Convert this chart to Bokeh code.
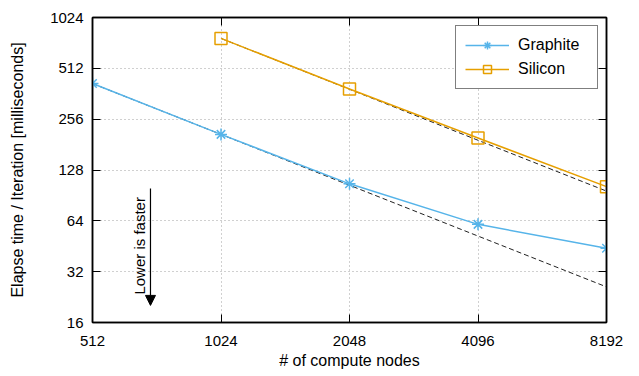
import math
from bokeh.plotting import figure
from bokeh.models import (FixedTicker, CustomJSTickFormatter, LogAxis, Arrow,
                          NormalHead, Label, Legend, LegendItem)
from bokeh.embed import file_html
from bokeh.resources import INLINE

# ---- data ----
nodes = [512, 1024, 2048, 4096, 8192]
graphite = [416, 208, 106, 61, 44]
graphite_ideal = [416, 208, 104, 52, 26]
silicon_nodes = [1024, 2048, 4096, 8192]
silicon = [770, 386, 198, 102]
silicon_ideal = [770, 385, 192, 96]
x_ticks = [512, 1024, 2048, 4096, 8192]
y_ticks = [16, 32, 64, 128, 256, 512, 1024]

FONT = "Liberation Sans"
C_GRAPHITE = "#56B4E9"
C_SILICON = "#E69F00"

p = figure(width=639, height=376, x_axis_type="log", y_axis_type="log",
           x_range=(512, 8192), y_range=(16, 1024),
           output_backend="svg", toolbar_location=None,
           min_border_left=92, min_border_right=33, min_border_top=17,
           min_border_bottom=54)

p.outline_line_color = "black"
p.outline_line_width = 1.5

fmt = CustomJSTickFormatter(code="return tick.toFixed(0);")
blank = CustomJSTickFormatter(code="return '';")

for ax, tk in ((p.xaxis[0], x_ticks), (p.yaxis[0], y_ticks)):
    ax.ticker = FixedTicker(ticks=tk)
    ax.formatter = fmt
    ax.major_tick_in = 8
    ax.major_tick_out = 0
    ax.minor_tick_line_color = None
    ax.axis_line_color = "black"
    ax.axis_line_width = 1.5
    ax.major_tick_line_width = 1
    ax.major_label_text_font = FONT
    ax.major_label_text_font_size = "15px"
    ax.major_label_text_color = "black"
    ax.axis_label_text_font = FONT
    ax.axis_label_text_font_size = "16px"
    ax.axis_label_text_font_style = "normal"
    ax.axis_label_text_color = "black"

p.xaxis.axis_label = "# of compute nodes"
p.xaxis.major_label_standoff = 13
p.xaxis.axis_label_standoff = 3
p.yaxis.axis_label = "Elapse time / Iteration [milliseconds]"
p.yaxis.major_label_standoff = 9
p.yaxis.axis_label_standoff = 21

# mirrored axes (ticks only)
for loc, tk in (("above", x_ticks), ("right", y_ticks)):
    ax = LogAxis(ticker=FixedTicker(ticks=tk), formatter=blank,
                 major_tick_in=8, major_tick_out=0,
                 minor_tick_line_color=None, axis_line_color="black",
                 axis_line_width=1.5, major_label_standoff=0,
                 major_label_text_font_size="0px")
    p.add_layout(ax, loc)

p.xgrid.ticker = FixedTicker(ticks=x_ticks)
p.ygrid.ticker = FixedTicker(ticks=y_ticks)
for g in (p.xgrid[0], p.ygrid[0]):
    g.grid_line_color = "#a0a0a0"
    g.grid_line_dash = "1 3"
    g.grid_line_width = 1

# ideal scaling lines
p.line(nodes, graphite_ideal, line_color="#222222", line_dash="5 3", line_width=1)
p.line(silicon_nodes, silicon_ideal, line_color="#222222", line_dash="5 3", line_width=1)

# series
gl = p.line(nodes, graphite, line_color=C_GRAPHITE, line_width=1.5)
gs = p.scatter(nodes, graphite, marker="asterisk", size=12,
               line_color=C_GRAPHITE, line_width=1.5)
sl = p.line(silicon_nodes, silicon, line_color=C_SILICON, line_width=1.5)
ss = p.scatter(silicon_nodes, silicon, marker="square", size=12,
               line_color=C_SILICON, fill_color=None, line_width=1.5)

legend = Legend(items=[LegendItem(label="Graphite", renderers=[gl, gs]),
                       LegendItem(label="Silicon", renderers=[sl, ss])],
                location="top_right", margin=8, padding=9, spacing=4,
                glyph_width=44, glyph_height=20, label_standoff=9,
                label_width=70, label_text_font=FONT,
                label_text_font_size="16px", label_text_color="black",
                border_line_color="black", border_line_width=1,
                background_fill_alpha=1)
p.add_layout(legend)

# annotation
p.add_layout(Arrow(end=NormalHead(size=10, fill_color="black", line_color="black"),
                   x_start=700, y_start=99.5, x_end=700, y_end=20.2,
                   line_color="black", line_width=1.2))
p.add_layout(Label(x=661, y=23.4, text="Lower is faster", angle=math.pi / 2,
                   text_align="left", text_baseline="middle",
                   text_font=FONT, text_font_size="15px", text_color="black"))

open("out.html", "w").write(file_html(p, INLINE))
